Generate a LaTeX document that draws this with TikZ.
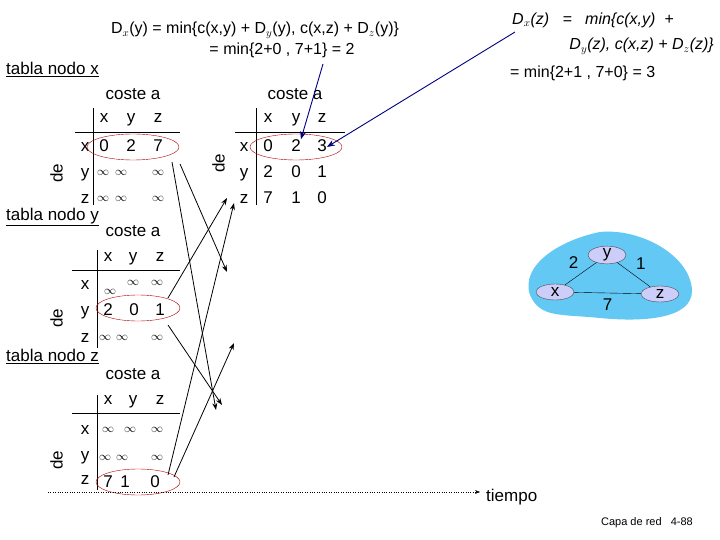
\documentclass[tikz,border=0pt]{standalone}
\usepackage{fontspec}
\setmainfont{Liberation Sans}
\usetikzlibrary{arrows.meta,shapes.geometric}
\definecolor{cloud}{RGB}{100,200,245}
\definecolor{rtr}{RGB}{205,205,250}
\begin{document}
\begin{tikzpicture}[x=1pt,y=-1pt,
  t/.style={inner sep=0pt,font=\fontsize{17}{17}\selectfont,text height=12pt,text depth=3pt},
  tf/.style={inner sep=0pt,font=\fontsize{16}{16}\selectfont},
  sm/.style={inner sep=0pt,font=\fontsize{13}{13}\selectfont},
  ov/.style={draw=red!70!black,ellipse,minimum width=92pt,minimum height=26pt,inner sep=0pt},
  ar/.style={-{Stealth[length=7pt,width=5pt]},line width=0.8pt},
  bar/.style={-{Stealth[length=8pt,width=6pt]},draw=blue!50!black,line width=0.9pt},
  rt/.style={draw=black!70,fill=rtr,ellipse,minimum width=38pt,minimum height=16pt,inner sep=0pt,font=\fontsize{17}{17}\selectfont}]
\path[use as bounding box,fill=white] (0,0) rectangle (720,540);
% top formulas
\node[tf] (f1) at (255,30) {D$_x$(y) = min\{c(x,y) + D$_y$(y), c(x,z) + D$_z$(y)\}};
\node[tf] (f2) at (282,50) {= min\{2+0 , 7+1\} = 2};
\node[tf,anchor=west,font=\fontsize{16}{16}\selectfont\itshape] (g1) at (512,20) {D$_x$(z) \ \ = \ \ min\{c(x,y) \ +};
\node[tf,anchor=east,font=\fontsize{16}{16}\selectfont\itshape] (g2) at (714,46) {D$_y$(z), c(x,z) + D$_z$(z)\}};
\node[tf,anchor=west] (g3) at (510,73) {= min\{2+1 , 7+0\} = 3};
% table x
\node[t,anchor=west] (tx) at (6,70) {\underline{tabla nodo x}};
\node[t] (cx) at (133,95) {coste a};
\foreach \c/\xx in {x/104,y/131,z/158} \node[t] (hx\c) at (\xx,118) {\c};
\draw (75,132) -- (180,132); \draw (93,108) -- (93,205);
\foreach \c/\yy in {x/147,y/173,z/199} \node[t] (rx\c) at (85,\yy) {\c};
\node[t,rotate=90] (dx) at (58,173) {de};
\node[t] at (104,147) {0}; \node[t] at (131,147) {2}; \node[t] at (158,147) {7};
\foreach \yy in {173,199}{\node[sm] at (103,\yy) {$\infty$};\node[sm] at (121,\yy) {$\infty$};\node[sm] at (158,\yy) {$\infty$};}
\node[ov] (ex) at (133,147) {};
% table x time 2
\node[t] (cx2) at (295,95) {coste a};
\foreach \c/\xx in {x/268,y/296,z/322} \node[t] (hy\c) at (\xx,118) {\c};
\draw (235,132) -- (345,132); \draw (256,108) -- (256,205);
\foreach \c/\yy in {x/147,y/173,z/199} \node[t] (ry\c) at (244,\yy) {\c};
\node[t,rotate=90] (dx2) at (220,163) {de};
\node[t] at (268,147) {0}; \node[t] (two) at (296,147) {2}; \node[t] (three) at (322,147) {3};
\node[t] at (268,173) {2}; \node[t] at (296,173) {0}; \node[t] at (322,173) {1};
\node[t] at (268,199) {7}; \node[t] at (296,199) {1}; \node[t] at (322,199) {0};
\node[ov] (ex2) at (296,147) {};
% table y
\node[t,anchor=west] (ty) at (6,216) {\underline{tabla nodo y}};
\node[t] (cy) at (133,232) {coste a};
\foreach \c/\xx in {x/108,y/133,z/160} \node[t] at (\xx,257) {\c};
\draw (72,270) -- (180,270); \draw (97,250) -- (97,348);
\foreach \c/\yy in {x/285,y/311,z/338} \node[t] at (85,\yy) {\c};
\node[t,rotate=90] at (58,318) {de};
\node[sm] at (110,292) {$\infty$};\node[sm] at (133,283) {$\infty$};\node[sm] at (157,283) {$\infty$};
\node[t] at (108,311) {2}; \node[t] at (134,311) {0}; \node[t] at (160,311) {1};
\node[sm] at (105,338) {$\infty$};\node[sm] at (122,338) {$\infty$};\node[sm] at (157,338) {$\infty$};
\node[ov,minimum width=84pt] (ey) at (138,308) {};
% table z
\node[t,anchor=west] (tz) at (6,357) {\underline{tabla nodo z}};
\node[t] (cz) at (133,375) {coste a};
\foreach \c/\xx in {x/108,y/133,z/160} \node[t] at (\xx,400) {\c};
\draw (72,413) -- (180,413); \draw (97,395) -- (97,490);
\foreach \c/\yy in {x/430,y/456,z/480} \node[t] at (85,\yy) {\c};
\node[t,rotate=90] at (58,460) {de};
\foreach \yy in {430}{\node[sm] at (108,\yy) {$\infty$};\node[sm] at (130,\yy) {$\infty$};\node[sm] at (157,\yy) {$\infty$};}
\node[sm] at (105,458) {$\infty$};\node[sm] at (122,458) {$\infty$};\node[sm] at (157,458) {$\infty$};
\node[t] at (108,483) {7}; \node[t] at (125,483) {1}; \node[t] at (155,483) {0};
\node[ov,minimum width=84pt] (ez) at (138,482) {};
% message arrows
\coordinate (a1s) at (172,162); \coordinate (a1e) at (216,410);
\coordinate (a2s) at (180,164); \coordinate (a2e) at (227,272);
\coordinate (b1s) at (168,298); \coordinate (b1e) at (227,198);
\coordinate (b2s) at (168,325); \coordinate (b2e) at (222,405);
\coordinate (c1s) at (168,475); \coordinate (c1e) at (234,203);
\coordinate (c2s) at (174,477); \coordinate (c2e) at (234,343);
\foreach \p in {a1,a2,b1,b2,c1,c2} \draw[ar] (\p s) -- (\p e);
% blue arrows
\draw[bar] (323,64) -- (two.north east);
\draw[bar] (515,32) -- (three.east);
% time axis
\coordinate (t0) at (48,492); \coordinate (t1) at (480,492);
\draw[dotted,-{Stealth[length=5pt]}] (t0) -- (t1);
\node[t,anchor=west] (tiempo) at (486,497) {tiempo};
% network
\fill[cloud] (530,295) .. controls (520,265) and (560,240) .. (600,232) .. controls (640,228) and (690,255) .. (692,290) .. controls (693,320) and (640,322) .. (600,318) .. controls (560,314) and (540,318) .. (530,295) -- cycle;
\node[rt] (ny) at (607,255) {y};
\node[rt] (nx) at (555,292) {x};
\node[rt] (nz) at (660,294) {z};
\draw (nx) -- (ny) node[t,midway,above left=2pt] {2};
\draw (ny) -- (nz) node[t,midway,above right=2pt] {1};
\draw (nx) -- (nz) node[t,midway,below=5pt] {7};
\node[inner sep=0pt,font=\fontsize{11}{11}\selectfont] (foot) at (647,523) {Capa de red \ \ 4-88};
\end{tikzpicture}
\end{document}
